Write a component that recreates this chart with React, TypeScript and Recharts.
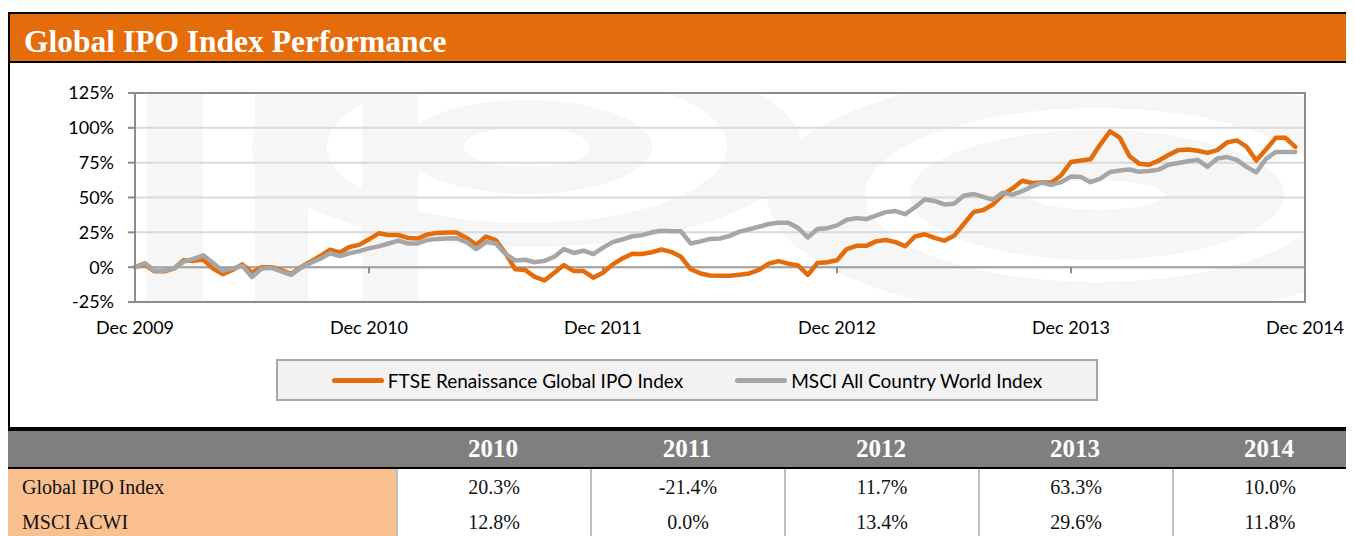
import React from 'react';
import {
  LineChart,
  Line,
  XAxis,
  YAxis,
  CartesianGrid,
  ReferenceLine,
  ReferenceArea,
  Legend,
} from 'recharts';

// ---------- data ----------
const xTickPositions = [0, 24, 48, 72, 96, 120];
const xTickLabels = ['Dec 2009', 'Dec 2010', 'Dec 2011', 'Dec 2012', 'Dec 2013', 'Dec 2014'];
const yTicks = [-25, 0, 25, 50, 75, 100, 125];

// semi-monthly cumulative performance (%) – FTSE Renaissance Global IPO Index
const ftseIpo = [
  0, 2, -3, -3, -1, 5, 4.5, 5.5, -1, -5, -2, 2, -4, 0, 0, -2, -5, 0, 4, 8, 12.5, 10.5, 14.5, 16,
  20, 24.3, 23.1, 23.1, 21, 20.5, 23.5, 24.6, 24.8, 24.8, 21, 16, 22, 19.5, 10, -1.5, -2, -7, -9.5, -4,
  1.5, -2.8, -2.8, -7.5, -4, 2, 6.3, 9.7, 9.5, 10.7, 12.7, 11, 7.4, -1.5, -4.5, -6, -6.1, -6.1, -5.5, -4.5,
  -2, 2.5, 4.3, 2.5, 1.3, -5.6, 3, 3.5, 5, 13, 15.3, 15.3, 18.5, 19.5, 18, 15, 22, 23.6, 21, 19,
  22.5, 31, 39.5, 41, 45, 52, 56.5, 62, 60.4, 60.8, 60.8, 66, 75.5, 76.5, 77.5, 88, 97.5, 93, 79.6, 74.3,
  73.5, 76.5, 80.5, 84, 84.5, 83.5, 82, 84, 89.5, 91, 86.5, 76.5, 84.5, 92.8, 92.8, 86.3,
];

// semi-monthly cumulative performance (%) – MSCI All Country World Index
const msciAcwi = [
  0, 3, -2.5, -2.5, -1, 4, 6, 8.5, 3, -2.5, -1, 1, -7, -1, -0.5, -3, -5.5, -0.5, 3, 6, 10, 8, 10, 11.5,
  13.5, 14.9, 17, 19.1, 17, 17, 19.5, 20.3, 20.6, 20.8, 18, 13, 18, 17, 9.5, 4.8, 5.3, 3.5, 4.5, 7.5,
  13, 10.2, 11.8, 9.4, 14, 18, 20, 22.2, 23, 25, 26.2, 25.7, 25.7, 17, 18.5, 20.3, 20.6, 22.5, 25.5, 27.2,
  29, 31, 31.8, 31.8, 28.2, 21.3, 27.4, 28, 30, 34, 35.2, 34.5, 37, 39.5, 40.3, 38, 43, 48.5, 47.5, 45,
  45.5, 51.3, 52.5, 50.5, 48.4, 53.5, 52, 54.5, 58, 60.8, 59, 61, 65.1, 64.8, 61, 63.5, 68.3, 69.3, 70.1, 68.4,
  69, 70, 73.5, 74.8, 76, 77, 72, 78, 79, 77, 72, 68, 77.7, 82.7, 82.7, 82.7,
];

const seriesNames = ['FTSE Renaissance Global IPO Index', 'MSCI All Country World Index'];

const tableYears = ['2010', '2011', '2012', '2013', '2014'];
const tableRowLabels = ['Global IPO Index', 'MSCI ACWI'];
const ipoReturns = ['20.3%', '-21.4%', '11.7%', '63.3%', '10.0%'];
const acwiReturns = ['12.8%', '0.0%', '13.4%', '29.6%', '11.8%'];

const chartData = ftseIpo.map((v, i) => ({ t: i, ipo: v, acwi: msciAcwi[i] }));

// ---------- styles ----------
const ORANGE = '#E46C0A';
const GREY = '#A6A6A6';
const WM = '#f6f6f6';
const SANS = 'Lato, "Open Sans", sans-serif';
const SERIF = '"Liberation Serif", "DejaVu Serif", serif';

// faint "IPO" watermark drawn inside the plot rectangle
const Watermark = (p: any) => {
  const { x, y, width, height } = p;
  const sx = width / 1170;
  const sy = height / 209;
  const e = (cx: number, cy: number, rx: number, ry: number, fill: string, k: string) => (
    <ellipse key={k} cx={x + cx * sx} cy={y + cy * sy} rx={rx * sx} ry={ry * sy} fill={fill} />
  );
  const r = (x0: number, x1: number, k: string) => (
    <rect key={k} x={x + x0 * sx} y={y} width={(x1 - x0) * sx} height={height} fill={WM} />
  );
  return (
    <g>
      <defs>
        <clipPath id="wm-clip">
          <rect x={x} y={y} width={width} height={height} />
        </clipPath>
      </defs>
      <rect x={x} y={y} width={width} height={height} fill="#fff" />
      <g clipPath="url(#wm-clip)">
        {e(392, 54, 275, 100, WM, 'a1')}
        {e(392, 54, 200, 76, '#fff', 'a2')}
        {e(392, 54, 125, 47, WM, 'a3')}
        {e(392, 54, 63, 20, '#fff', 'a4')}
        {e(962, 102, 330, 125, WM, 'b1')}
        {e(962, 102, 232, 87, '#fff', 'b2')}
        {e(962, 102, 187, 65, WM, 'b3')}
        {e(962, 102, 67, 15, '#fff', 'b4')}
        {r(12, 68, 's1')}
        {r(120, 173, 's2')}
        {r(227, 283, 's3')}
      </g>
    </g>
  );
};

const LegendContent = (props: any) => {
  const payload = props.payload || [];
  return (
    <div
      style={{
        width: 822,
        height: 42,
        boxSizing: 'border-box',
        border: '2px solid #a6a6a6',
        background: '#f2f2f2',
        display: 'flex',
        alignItems: 'center',
        justifyContent: 'center',
        fontFamily: SANS,
        fontSize: 19,
        color: '#000',
      }}
    >
      {payload.map((entry: any, i: number) => (
        <div key={i} style={{ display: 'flex', alignItems: 'center', marginLeft: i === 0 ? 0 : 52 }}>
          <span
            style={{
              display: 'inline-block',
              width: 52,
              height: 5,
              borderRadius: 3,
              background: entry.color,
              marginRight: 4,
            }}
          />
          <span>{entry.value}</span>
        </div>
      ))}
    </div>
  );
};

export default function App() {
  return (
    <div style={{ paddingTop: 4, width: 1346 }}>
      <style>{`html,body{overflow:hidden}`}</style>
      {/* title bar */}
      <div
        style={{
          height: 47,
          background: ORANGE,
          borderTop: '2px solid #000',
          borderBottom: '2px solid #000',
          borderLeft: '2px solid #000',
          paddingLeft: 14,
          boxSizing: 'content-box',
          fontFamily: SERIF,
          fontWeight: 'bold',
          fontSize: 31.5,
          color: '#fff',
          lineHeight: '39px',
        }}
      >
        <div style={{ paddingTop: 8 }}>Global IPO Index Performance</div>
      </div>
      {/* chart */}
      <div style={{ borderLeft: '2px solid #000', height: 364, background: '#fff' }}>
        <LineChart
          width={1344}
          height={364}
          data={chartData}
          margin={{ top: 30, right: 49, bottom: 95, left: 55 }}
        >
          <ReferenceArea
            x1={0}
            x2={120}
            y1={-25}
            y2={125}
            shape={Watermark}
            zIndex={-200}
            ifOverflow="visible"
          />
          <CartesianGrid horizontal vertical={false} stroke="#d9d9d9" strokeWidth={2} />
          <XAxis
            dataKey="t"
            type="number"
            domain={[0, 120]}
            ticks={xTickPositions}
            tickFormatter={(v: number) => xTickLabels[xTickPositions.indexOf(v)]}
            axisLine={false}
            tickLine={false}
            tickSize={0}
            tickMargin={19}
            height={30}
            interval={0}
            tick={{ fontFamily: SANS, fontSize: 18, fill: '#000' }}
          />
          <YAxis
            type="number"
            domain={[-25, 125]}
            ticks={yTicks}
            tickFormatter={(v: number) => `${v}%`}
            width={70}
            axisLine={{ stroke: '#8c8c8c', strokeWidth: 2 }}
            tickLine={{ stroke: '#8c8c8c', strokeWidth: 2 }}
            tickSize={7}
            tickMargin={14}
            interval={0}
            tick={{ fontFamily: SANS, fontSize: 18, fill: '#000' }}
          />
          <ReferenceArea
            x1={0}
            x2={120}
            y1={-25}
            y2={125}
            fill="none"
            fillOpacity={0}
            stroke="#8c8c8c"
            strokeWidth={2}
            ifOverflow="visible"
          />
          <ReferenceLine y={0} stroke="#a0a0a0" strokeWidth={2} />
          {xTickPositions.slice(1).map((p) => (
            <ReferenceLine
              key={p}
              segment={[
                { x: p, y: 0 },
                { x: p, y: -4.3 },
              ]}
              stroke="#8c8c8c"
              strokeWidth={2}
              ifOverflow="visible"
            />
          ))}
          <Legend
            layout="horizontal"
            verticalAlign="middle"
            align="center"
            wrapperStyle={{ left: 266, top: 296, width: 822, height: 42 }}
            content={LegendContent}
          />
          <Line
            dataKey="ipo"
            name={seriesNames[0]}
            type="linear"
            stroke={ORANGE}
            strokeWidth={4.5}
            dot={false}
            strokeLinejoin="round"
            strokeLinecap="round"
            isAnimationActive={false}
          />
          <Line
            dataKey="acwi"
            name={seriesNames[1]}
            type="linear"
            stroke={GREY}
            strokeWidth={4.5}
            dot={false}
            strokeLinejoin="round"
            strokeLinecap="round"
            isAnimationActive={false}
          />
        </LineChart>
      </div>
      {/* table */}
      <div style={{ marginLeft: -2, width: 1348, overflow: 'hidden', fontFamily: SERIF }}>
        <div
          style={{
            display: 'flex',
            height: 36,
            background: '#7f7f7f',
            borderTop: '4px solid #000',
            borderBottom: '2px solid #000',
          }}
        >
          <div style={{ width: 390, flex: 'none' }} />
          {tableYears.map((yr) => (
            <div
              key={yr}
              style={{
                width: 194,
                flex: 'none',
                textAlign: 'center',
                color: '#fff',
                fontWeight: 'bold',
                fontSize: 25,
                lineHeight: '36px',
              }}
            >
              {yr}
            </div>
          ))}
        </div>
        {[ipoReturns, acwiReturns].map((row, ri) => (
          <div key={ri} style={{ display: 'flex', height: 35 }}>
            <div
              style={{
                width: 390,
                flex: 'none',
                background: '#FAC090',
                paddingLeft: 16,
                boxSizing: 'border-box',
                fontSize: 20,
                lineHeight: '37px',
                color: '#111',
              }}
            >
              {tableRowLabels[ri]}
            </div>
            {row.map((v, ci) => (
              <div
                key={ci}
                style={{
                  width: 194,
                  flex: 'none',
                  boxSizing: 'border-box',
                  borderLeft: '2px solid #bfbfbf',
                  textAlign: 'center',
                  fontSize: 20,
                  lineHeight: '37px',
                  color: '#111',
                  background: '#fff',
                }}
              >
                {v}
              </div>
            ))}
          </div>
        ))}
      </div>
    </div>
  );
}
